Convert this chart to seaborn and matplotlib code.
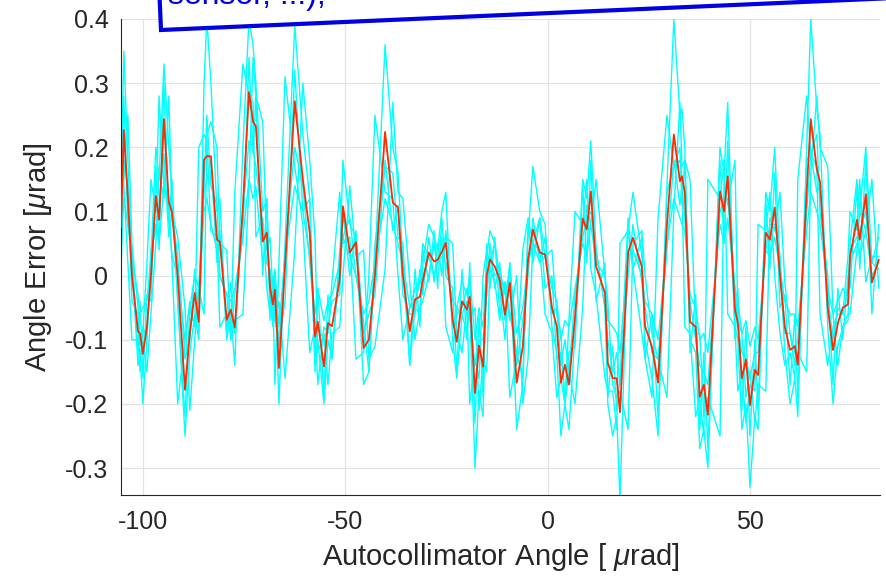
import numpy as np
import pandas as pd
import matplotlib
matplotlib.use("Agg")
import matplotlib.pyplot as plt
import seaborn as sns
from matplotlib.patches import Polygon

# ---------------- data ----------------
angle = [-105.4, -104.7, -103.7, -102.7, -101.2, -100.7, -100.0, -99.0, -98.0, -96.8,
         -96.0, -94.8, -93.6, -92.8, -91.4, -89.6, -88.4, -87.2, -86.2, -84.9,
         -84.2, -83.2, -81.7, -81.0, -79.3, -78.3, -77.3, -75.3, -73.8, -72.8,
         -72.1, -70.4, -69.4, -68.6, -67.9, -67.4, -66.4, -64.9, -62.5, -60.5,
         -58.8, -57.5, -56.8, -55.3, -54.3, -53.3, -51.4, -50.6, -48.9, -47.4,
         -45.5, -44.2, -42.7, -40.2, -38.3, -37.0, -35.8, -34.1, -32.8, -31.6,
         -30.9, -29.4, -28.1, -27.2, -26.2, -25.2, -23.5, -22.5, -21.2, -20.0,
         -19.3, -18.0, -17.0, -16.0, -15.1, -14.3, -13.1, -11.9, -10.6, -9.4,
         -7.7, -6.2, -4.9, -3.7, -2.0, -0.7, 1.0, 2.2, 3.2, 4.2,
         5.2, 6.7, 8.6, 9.6, 10.6, 11.9, 14.1, 14.8, 16.0, 17.0,
         17.8, 19.8, 21.0, 23.2, 24.0, 25.7, 27.2, 29.4, 31.1, 32.6,
         33.1, 33.8, 35.1, 36.5, 37.5, 38.5, 39.5, 42.5, 43.5, 44.4,
         46.2, 46.9, 47.9, 48.9, 49.9, 51.1, 51.9, 53.8, 54.8, 56.0,
         57.3, 58.5, 59.8, 61.0, 61.7, 63.9, 64.9, 66.4, 67.2, 69.1,
         70.4, 71.6, 72.8, 74.1, 74.6, 76.3, 77.0, 78.5, 80.0, 81.7]

mean_error = [0.075, 0.227, 0.12, 0.0, -0.087, -0.09, -0.122, -0.08, 0.0, 0.124,
              0.087, 0.244, 0.115, 0.098, 0.0, -0.178, -0.089, -0.027, -0.072, 0.181,
              0.186, 0.186, 0.056, 0.053, -0.069, -0.053, -0.081, 0.108, 0.286, 0.24,
              0.233, 0.053, 0.067, -0.019, -0.045, -0.022, -0.144, 0.014, 0.272, 0.15,
              0.067, -0.095, -0.072, -0.142, -0.074, -0.079, -0.006, 0.108, 0.036, 0.052,
              -0.113, -0.1, 0.0, 0.224, 0.114, 0.106, 0.0, -0.087, -0.037, -0.033,
              -0.009, 0.036, 0.022, 0.025, 0.037, 0.051, -0.069, -0.103, -0.04, -0.053,
              -0.033, -0.183, -0.109, -0.142, 0.0, 0.025, 0.014, -0.006, -0.061, -0.011,
              -0.167, -0.111, 0.025, 0.072, 0.036, 0.033, -0.05, -0.079, -0.167, -0.139,
              -0.17, -0.064, 0.089, 0.072, 0.131, 0.014, -0.027, -0.136, -0.16, -0.16,
              -0.213, 0.036, 0.059, 0.014, -0.079, -0.111, -0.167, 0.08, 0.22, 0.147,
              0.155, 0.13, -0.072, -0.08, -0.189, -0.17, -0.217, 0.131, 0.1, 0.155,
              -0.053, -0.074, -0.16, -0.131, -0.202, -0.147, -0.155, 0.067, 0.056, 0.106,
              0.0, -0.08, -0.116, -0.11, -0.139, 0.13, 0.244, 0.166, 0.146, -0.05,
              -0.116, -0.074, -0.05, -0.045, 0.03, 0.087, 0.056, 0.127, -0.011, 0.025]

trial_1 = [.12, .35, .18, .02, -.14, -.12, -.2, -.1, .03, .2,
           .15, .33, .2, .12, -.04, -.25, -.12, -.06, -.1, .3,
           .4, .3, .1, .12, -.1, -.06, -.14, .2, .4, .36,
           .3, .1, .12, -.03, -.08, -.01, -.2, .05, .39, .22,
           .12, -.14, -.1, -.2, -.1, -.13, .02, .18, .08, .06,
           -.17, -.15, .02, .36, .2, .16, .02, -.14, -.05, -.06,
           .02, .08, .06, .04, .1, .13, -.1, -.16, -.06, -.09,
           -.05, -.3, -.18, -.22, .03, .07, .05, -.02, -.1, .02,
           -.24, -.17, .06, .17, .1, .08, -.08, -.12, -.25, -.2,
           -.24, -.09, .15, .12, .21, .04, -.05, -.2, -.25, -.22,
           -.35, .07, .13, .03, -.1, -.16, -.25, .14, .4, .25,
           .26, .2, -.1, -.12, -.27, -.24, -.3, .2, .16, .27,
           -.08, -.1, -.24, -.2, -.33, -.22, -.24, .13, .1, .2,
           .02, -.12, -.2, -.16, -.22, .2, .4, .26, .22, -.08,
           -.2, -.11, -.08, -.07, .05, .15, .1, .2, .02, .06]

trial_2 = [.04, .12, .08, .03, -.03, -.06, -.05, -.04, .03, .08,
           .05, .14, .1, .03, .0, -.1, -.05, .0, -.02, .1,
           .12, .08, .04, .0, -.03, -.04, -.02, .06, .15, .12,
           .14, .02, .05, .0, -.02, .01, -.08, .03, .14, .1,
           .03, -.06, -.02, -.07, -.04, -.03, .02, .06, .03, .0,
           -.06, -.04, .02, .12, .08, .05, .02, -.05, -.02, -.01,
           .0, .03, .0, .02, .03, .02, -.04, -.05, -.01, -.03,
           .0, -.1, -.05, -.08, .02, .03, .0, .01, -.03, .01,
           -.09, -.05, .02, .05, .02, .03, -.02, -.04, -.1, -.07,
           -.08, -.02, .05, .03, .08, .02, .0, -.07, -.08, -.09,
           -.12, .03, .04, .0, -.04, -.06, -.1, .05, .12, .09,
           .08, .07, -.03, -.05, -.1, -.09, -.12, .08, .05, .09,
           -.02, -.04, -.09, -.07, -.11, -.08, -.1, .04, .03, .06,
           .01, -.04, -.06, -.06, -.08, .07, .13, .1, .08, -.02,
           -.06, -.04, -.02, -.03, .02, .05, .03, .07, .0, .02]

trial_3 = [.1, .15, .25, .05, -.05, -.13, -.1, -.15, -.06, .05,
           .16, .12, .28, .1, .06, -.05, -.21, -.1, -.02, -.06,
           .22, .24, .2, .05, .04, -.1, -.07, -.06, .14, .34,
           .28, .24, .04, .06, -.03, -.07, -.04, -.16, .04, .3,
           .18, .06, -.12, -.09, -.17, -.09, -.08, .0, .14, .03,
           .04, -.13, -.11, .01, .27, .13, .12, -.01, -.1, -.05,
           -.04, .0, .05, .02, .05, .06, .05, -.09, -.12, -.05,
           -.07, -.05, -.21, -.13, -.15, .02, .05, .0, -.02, -.07,
           .0, -.2, -.13, .05, .09, .03, .04, -.06, -.09, -.2,
           -.15, -.2, -.05, .11, .08, .15, .0, -.04, -.17, -.19,
           -.18, -.24, .05, .07, .0, -.09, -.13, -.19, .1, .27,
           .17, .18, .15, -.09, -.09, -.22, -.19, -.25, .15, .11,
           .18, -.07, -.09, -.19, -.15, -.23, -.17, -.18, .09, .07,
           .13, -.01, -.09, -.14, -.12, -.15, .16, .28, .2, .17,
           -.06, -.14, -.08, -.06, -.06, .04, .1, .07, .15, -.02]

trial_4 = [.2, .14, .02, -.1, -.1, -.15, -.09, .02, .15, .1,
           .28, .14, .12, .02, -.2, -.1, -.04, -.08, .2, .22,
           .21, .07, .06, -.08, -.06, -.09, .13, .33, .28, .27,
           .06, .09, -.02, -.06, -.03, -.17, .02, .31, .17, .08,
           -.12, -.08, -.17, -.08, -.09, -.01, .13, .05, .06, -.13,
           -.12, .0, .25, .13, .12, .0, -.1, -.05, -.04, -.01,
           .05, .03, .04, .05, .06, -.08, -.12, -.05, -.06, -.04,
           -.2, -.13, -.16, .0, .04, .01, -.01, -.07, -.01, -.19,
           -.13, .04, .09, .05, .04, -.06, -.09, -.19, -.16, -.2,
           -.07, .1, .08, .15, .01, -.03, -.16, -.18, -.18, -.24,
           .05, .07, .01, -.09, -.13, -.19, .09, .25, .17, .18,
           .15, -.08, -.09, -.22, -.19, -.25, .15, .12, .18, -.06,
           -.08, -.18, -.15, -.23, -.17, -.18, .08, .07, .13, .0,
           -.09, -.14, -.12, -.16, .15, .28, .19, .17, -.06, -.14,
           -.08, -.06, -.06, .03, .1, .07, .15, -.01, .03, .03]

trial_5 = [.12, .28, .08, .04, -.12, -.04, -.16, -.03, -.04, .17,
           .04, .3, .08, .15, -.04, -.22, -.05, -.08, -.02, .14,
           .25, .14, .11, .0, -.03, -.1, -.03, .06, .34, .19,
           .28, .0, .12, -.07, .0, -.07, -.1, -.04, .32, .1,
           .12, -.15, -.02, -.19, -.03, -.13, .04, .06, .09, .0,
           -.07, -.15, .05, .17, .16, .06, .05, -.14, .01, -.08,
           .04, -.01, .07, -.02, .09, .0, -.02, -.15, .01, -.1,
           .02, -.23, -.06, -.19, .05, -.02, .06, -.06, -.01, -.06,
           -.12, -.16, .08, .02, .09, -.02, .0, -.13, -.12, -.19,
           -.12, -.11, .14, .02, .18, -.04, .02, -.19, -.11, -.21,
           -.16, .09, .01, .06, -.13, -.06, -.22, .13, .17, .2,
           .11, .18, -.12, -.03, -.24, -.12, -.27, .18, .05, .21,
           -.1, -.02, -.21, -.08, -.25, -.1, -.21, .12, .01, .16,
           -.05, -.03, -.17, -.06, -.19, .18, .19, .22, .1, .0,
           -.17, -.02, -.1, .0, -.02, .14, .01, .18, -.06, .08]

trial_6 = [.0, .18, .14, -.04, -.06, -.11, -.08, -.1, .04, .07,
           .11, .19, .06, .1, .03, -.13, -.1, .01, -.09, .13,
           .15, .18, .02, .07, -.09, -.01, -.09, .1, .21, .2,
           .17, .08, .02, .01, -.07, .0, -.11, .04, .2, .14,
           .02, -.07, -.08, -.1, -.08, -.04, -.03, .1, .0, .07,
           -.09, -.06, -.03, .18, .07, .11, -.03, -.06, -.06, .01,
           -.03, .06, -.01, .05, .0, .07, -.08, -.06, -.05, -.02,
           -.06, -.14, -.1, -.1, -.03, .05, -.02, .02, -.07, .02,
           -.14, -.07, .0, .09, .02, .06, -.06, -.05, -.14, -.1,
           -.15, -.03, .06, .09, .1, .04, -.05, -.1, -.15, -.12,
           -.17, .0, .08, -.01, -.05, -.12, -.13, .04, .18, .11,
           .14, .09, -.04, -.1, -.14, -.15, -.17, .1, .12, .12,
           -.02, -.08, -.12, -.13, -.16, -.12, -.12, .04, .08, .08,
           .03, -.09, -.09, -.12, -.1, .1, .19, .13, .14, -.03,
           -.1, -.05, -.06, -.02, .04, .06, .07, .1, .02, .01]

x_ticks = [-100, -50, 0, 50]
x_tick_labels = ["-100", "-50", "0", "50"]
y_ticks = [-0.3, -0.2, -0.1, 0, 0.1, 0.2, 0.3, 0.4]
y_tick_labels = ["-0.3", "-0.2", "-0.1", "0", "0.1", "0.2", "0.3", "0.4"]

trials = [trial_1, trial_2, trial_3, trial_4, trial_5, trial_6]
for t in trials:
    assert len(t) == len(angle), len(t)
assert len(mean_error) == len(angle)

trial_df = pd.concat(
    [pd.DataFrame({"angle": angle, "error": t, "trial": i}) for i, t in enumerate(trials)],
    ignore_index=True)
mean_df = pd.DataFrame({"angle": angle, "error": mean_error})

# ---------------- style ----------------
sns.set_style("white")
plt.rcParams["font.family"] = ["Liberation Sans", "DejaVu Sans"]
plt.rcParams["mathtext.fontset"] = "custom"
plt.rcParams["mathtext.rm"] = "Liberation Sans"
plt.rcParams["mathtext.it"] = "Liberation Sans:italic"
plt.rcParams["axes.unicode_minus"] = False

W, H = 887, 578
fig = plt.figure(figsize=(W / 100, H / 100), dpi=100)
ax = fig.add_axes([121 / W, 83 / H, 759 / W, 476 / H])

sns.lineplot(data=trial_df, x="angle", y="error", units="trial", estimator=None,
             color="#00ffff", lw=1.0, sort=False, legend=False, ax=ax, zorder=2)
sns.lineplot(data=mean_df, x="angle", y="error", color="#ff2a00", lw=1.3,
             sort=False, legend=False, ax=ax, zorder=3)

ax.set_xlim(-105.4, 82.0)
ax.set_ylim(-0.342, 0.4)
ax.set_xticks(x_ticks)
ax.set_xticklabels(x_tick_labels)
ax.set_yticks(y_ticks)
ax.set_yticklabels(y_tick_labels)

dark = "#262626"
ax.tick_params(axis="both", direction="in", length=5.5, width=0.8, color=dark,
               labelsize=18, labelcolor=dark)
ax.tick_params(axis="x", pad=11)
ax.tick_params(axis="y", pad=9)
for s in ["top", "right"]:
    ax.spines[s].set_visible(False)
for s in ["left", "bottom"]:
    ax.spines[s].set_color(dark)
    ax.spines[s].set_linewidth(0.8)

ax.grid(True, color="#e2e2e2", lw=0.9)
ax.set_axisbelow(True)

ax.set_xlabel(r"Autocollimator Angle [ $\mu$rad]", fontsize=21, color=dark, labelpad=5)
ax.set_ylabel(r"Angle Error [$\mu$rad]", fontsize=21, color=dark, labelpad=8)

# ---------------- slanted callout box (cut at the top) ----------------
theta = np.deg2rad(2.5)
x0, y0 = 161, H - 30
L, Hb = 900, 120
corners = [(x0, y0),
           (x0 + L * np.cos(theta), y0 + L * np.sin(theta)),
           (x0 + L * np.cos(theta) - Hb * np.sin(theta), y0 + L * np.sin(theta) + Hb * np.cos(theta)),
           (x0 - Hb * np.sin(theta), y0 + Hb * np.cos(theta))]
corners = [(cx / W, cy / H) for cx, cy in corners]
box = Polygon(corners, closed=True, transform=fig.transFigure, fc="white",
              ec="#0000e0", lw=3.0, zorder=10, clip_on=False)
fig.add_artist(box)
fig.text(168 / W, (H - 4) / H, "sensor, ...),", fontsize=23, color="#0000e0",
         ha="left", va="baseline", zorder=11)

fig.savefig("out.png", dpi=100)
